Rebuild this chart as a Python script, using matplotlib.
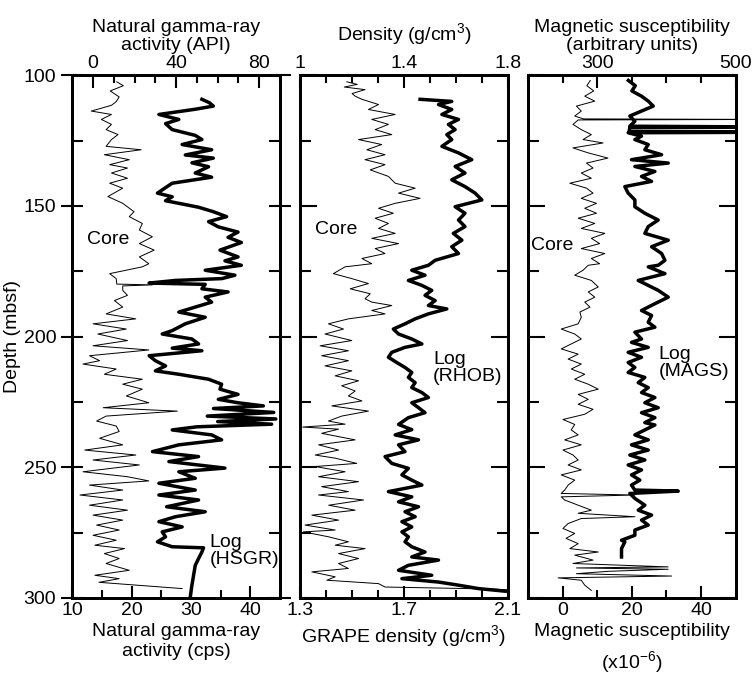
import matplotlib
matplotlib.use('Agg')
import matplotlib.pyplot as plt
from matplotlib.ticker import MultipleLocator, FixedLocator, FixedFormatter

plt.rcParams['font.family'] = ['Liberation Sans', 'DejaVu Sans']
plt.rcParams['font.size'] = 14
plt.rcParams['mathtext.fontset'] = 'custom'
plt.rcParams['mathtext.rm'] = 'Liberation Sans'

# ---- Natural gamma-ray: core (cps, bottom axis) and log HSGR (API, top axis)
gr_core_depth = [102.5, 104, 106, 108.3, 110.1, 111.5, 113.7, 115, 116.9, 118.8, 120.8, 122.7, 124.6, 127.2,
                 128.5, 130.4, 132.3, 134.2, 135.5, 137.4, 139.4, 141.3, 143.2, 146.4, 149, 152.2, 154.1, 156.7,
                 159.2, 161.8, 164.4, 166.9, 169.5, 172.1, 173.3, 175.9, 177.8, 179.9, 180.2, 180.6, 182.3, 184.2,
                 186.2, 188.7, 191.3, 193.2, 195.1, 197.1, 199, 201.5, 203.5, 205.1, 207.3, 209.2, 210.5, 212.4,
                 214.4, 216.3, 218.2, 220.1, 222.7, 225.3, 227.2, 228.5, 230.4, 232.3, 234.2, 236.3, 238.9, 241.4,
                 243.4, 245.3, 247.2, 249.1, 251.7, 253.6, 255.2, 256.8, 258.7, 260.6, 262.5, 264.5, 266.4, 268.3,
                 270.2, 272.1, 274, 276, 277.9, 279.8, 281.1, 283, 284.9, 286.8, 289.4, 291.3, 292.6, 294, 296.4]
gr_core_cps = [17.5, 18.6, 16.4, 17.9, 17.4, 16.6, 13.2, 16.6, 14.9, 16.6, 15.7, 17.7, 16.6, 15.7,
               21.6, 15.4, 19.6, 16.3, 19.3, 16.6, 19.3, 16.3, 18.5, 16.0, 18.5, 20.4, 19.6, 21.8,
               21.3, 23.5, 21.3, 23.8, 21.3, 22.9, 21.8, 16.3, 17.4, 17.5, 23.5, 18.5, 18.5, 19.3,
               17.1, 18.5, 15.7, 20.7, 13.5, 19.1, 14.3, 19.3, 13.5, 22.9, 12.9, 14.6, 11.8, 17.4,
               15.4, 21.8, 18.5, 21.8, 19.1, 22.9, 15.2, 27.7, 15.7, 14.1, 17.4, 17.9, 14.6, 18.5,
               12.1, 20.7, 13.5, 21.3, 11.8, 19.3, 22.9, 12.9, 18.5, 11.3, 18.5, 12.9, 19.3, 13.5,
               18.5, 14.1, 17.9, 13.5, 17.4, 13.8, 18.8, 15.4, 17.9, 15.7, 19.6, 13.8, 17.9, 14.5, 28.5]

gr_log_depth = [109.2, 110.5, 111.8, 113, 115, 116.9, 118.5, 120.8, 123, 124.6, 126.5, 128.5, 130.5, 131.7,
                133.5, 135, 137.4, 139, 141.3, 143, 145.1, 146.5, 148, 149, 150.5, 152.2, 154.1, 156, 158, 160,
                162, 164, 166.9, 169.5, 171, 172.7, 174.6, 176.5, 177.8, 178.5, 179.5, 180, 181.7, 182.9, 184.9,
                186.8, 188.7, 190.6, 192.6, 195.1, 197.7, 199, 200.9, 202.8, 204.4, 205.4, 207.3, 209.2, 211.2,
                213.1, 214.4, 216.3, 218.2, 220.1, 222.1, 224, 225.3, 226.5, 227.5, 229, 230.4, 231.5, 232.5,
                233.5, 234.5, 235.7, 237.6, 239.5, 241.4, 244, 245.9, 247.8, 250.3, 251.7, 254.2, 256.1, 258.7,
                260.6, 262.5, 265.1, 267, 268.9, 270.8, 272.8, 274.7, 276.6, 278.5, 280.4, 280.8, 282.4, 284.9,
                287.5, 291.3, 295.1, 299.6]
gr_log_api = [52.4, 56, 57.9, 49.2, 31.7, 41.3, 34.9, 38.1, 49.2, 52.4, 42.9, 57.1, 44.4, 57.9,
              47.6, 55.6, 49.2, 57.1, 38.1, 34.9, 31, 38.1, 34.9, 41.3, 50.8, 57.9, 64.3, 55.6, 60.3, 69.8,
              65, 71.4, 61.1, 69.8, 63.5, 71.4, 54, 68.3, 62, 39.7, 27, 54, 52.4, 65, 54,
              57.1, 49.2, 41.3, 54, 44.4, 38.1, 33.3, 47.6, 50.8, 38.1, 52.4, 27, 30, 34.9,
              30, 41.3, 55.6, 61.9, 61.1, 69.8, 60.3, 69.8, 82, 58, 87, 55, 88, 60,
              86, 50, 38.1, 57.1, 61.9, 41.3, 28.6, 50.8, 36.5, 63.5, 41.3, 49.2, 31.7, 49.2,
              31.7, 50.8, 35.4, 54, 39.7, 31.7, 42.9, 33.3, 34.9, 31, 38.1, 53.2, 52.4, 50.8,
              49.2, 48.4, 47.6, 46.8]

# ---- Density: GRAPE core (bottom axis) and log RHOB (top axis)
rho_core_depth = [102.5, 103.5, 104.5, 105.5, 107, 108, 109.2, 111.2, 113.1, 115, 116.9, 118.8, 120.8, 122.7,
                  124.6, 126.5, 128.5, 130.4, 132.3, 134.2, 136.2, 138.7, 141.3, 143.2, 145.1, 147.1, 149,
                  150.9, 152.8, 154.7, 156.7, 158.6, 160.5, 162.4, 164.4, 166.3, 168.2, 170.1, 172.1, 173.3,
                  175.9, 177.8, 179.7, 181.7, 183.6, 185.5, 186.8, 188.1, 190, 191.3, 193.2, 195.1, 197.1, 199,
                  201.5, 203.5, 205.4, 207.3, 209.2, 211.2, 213.1, 215, 216.9, 218.8, 220.8, 222.7, 224.6,
                  226.5, 228.5, 230.4, 232.3, 233.5, 234.6, 235.4, 237, 239.5, 241.4, 243.4, 245.3, 246.5,
                  248.5, 249.7, 251.7, 253.6, 255.5, 257.4, 259.3, 260.6, 262.5, 264.5, 266.4, 268.3, 270.2,
                  272.1, 274, 274.7, 276.6, 278.5, 279.8, 281.1, 283, 284.9, 286.8, 288.7, 290, 291.9, 293.2,
                  294.5, 295.8, 296.6, 297]
rho_core_grape = [1.48, 1.52, 1.47, 1.55, 1.5, 1.512, 1.538, 1.602, 1.563, 1.666, 1.576, 1.64, 1.589, 1.653,
                  1.525, 1.614, 1.557, 1.627, 1.55, 1.627, 1.57, 1.64, 1.666, 1.743, 1.679, 1.762, 1.666,
                  1.602, 1.659, 1.589, 1.64, 1.602, 1.666, 1.576, 1.679, 1.589, 1.627, 1.538, 1.576, 1.473,
                  1.428, 1.499, 1.563, 1.493, 1.57, 1.55, 1.576, 1.653, 1.576, 1.627, 1.486, 1.409, 1.467, 1.396,
                  1.499, 1.377, 1.486, 1.383, 1.486, 1.396, 1.499, 1.435, 1.525, 1.46, 1.512, 1.486, 1.538,
                  1.422, 1.563, 1.46, 1.409, 1.473, 1.31, 1.448, 1.383, 1.512, 1.371, 1.448, 1.358, 1.435,
                  1.518, 1.358, 1.473, 1.371, 1.525, 1.383, 1.486, 1.371, 1.544, 1.41, 1.512, 1.345, 1.448,
                  1.319, 1.435, 1.313, 1.41, 1.486, 1.435, 1.55, 1.448, 1.525, 1.448, 1.486, 1.345, 1.435, 1.403,
                  1.602, 1.627, 2.05, 2.12]

rho_log_depth = [109.2, 110, 111.2, 113.1, 115, 116.9, 118.8, 120.8, 122.7, 124.6, 127.2, 129.7, 132.3, 134.9,
                 137.4, 140, 142.6, 145.1, 147.7, 150.3, 152.8, 155.4, 157.9, 160.5, 163.1, 165.6, 168.2, 170.8,
                 172.7, 174.6, 176.5, 178.5, 180.4, 182.3, 184.2, 186.2, 188.1, 189.4, 191.3, 193.2, 195.1,
                 197.1, 199, 200.9, 202.8, 204.1, 206, 207.9, 209.9, 211.8, 213.7, 215.6, 217.6, 219.5, 221.4,
                 223.3, 225.3, 227.2, 229.1, 231, 233.6, 235.6, 237.6, 239.5, 241.4, 244, 245.9, 248.5, 250.4,
                 252.9, 254.9, 256.8, 259.3, 261.3, 263.2, 265.1, 267, 268.9, 270.8, 272.8, 274.7, 276.6, 278.5,
                 280.4, 282.4, 284.3, 285.5, 287.5, 289.4, 291.3, 292.6, 293.9, 295.1, 296.4, 297.4]
rho_log_rhob = [1.462, 1.584, 1.533, 1.584, 1.546, 1.61, 1.571, 1.597, 1.565, 1.584, 1.546, 1.61, 1.661, 1.597,
                1.635, 1.584, 1.635, 1.674, 1.7, 1.597, 1.635, 1.61, 1.635, 1.59, 1.623, 1.584, 1.61, 1.52,
                1.494, 1.43, 1.481, 1.417, 1.469, 1.507, 1.481, 1.52, 1.494, 1.565, 1.494, 1.443, 1.404,
                1.359, 1.379, 1.43, 1.469, 1.404, 1.353, 1.34, 1.372, 1.404, 1.43, 1.417, 1.443, 1.43, 1.469,
                1.494, 1.43, 1.456, 1.481, 1.417, 1.379, 1.43, 1.366, 1.456, 1.379, 1.404, 1.327, 1.353, 1.417,
                1.392, 1.43, 1.469, 1.34, 1.43, 1.379, 1.456, 1.404, 1.443, 1.392, 1.43, 1.392, 1.417, 1.404,
                1.43, 1.481, 1.43, 1.533, 1.417, 1.379, 1.507, 1.392, 1.533, 1.61, 1.687, 1.79]

# ---- Magnetic susceptibility: core (x1e-6, bottom axis) and log MAGS (arbitrary, top axis)
ms_core_depth = [102, 104, 106, 108, 109.9, 111.8, 113.7, 115.6, 116.7, 116.9, 117.1, 118.8, 120.8, 122.7,
                 124.6, 125.9, 127.8, 129.7, 131.7, 133.6, 135.5, 137.4, 139.4, 141.3, 143.2, 145.1, 147.1,
                 149, 150.9, 152.8, 154.7, 156.7, 158.6, 160.5, 162.4, 164.4, 166.3, 168.2, 170.1, 172.1,
                 172.7, 174.6, 176.5, 178.5, 181, 182.9, 184.9, 186.8, 188.7, 190.6, 192.6, 195.1, 197.1, 199,
                 200.9, 202.8, 204.7, 206.7, 208.6, 210.5, 212.4, 214.4, 216.3, 218.2, 220.1, 222.1, 224,
                 225.9, 227.8, 229.7, 231.7, 233.6, 235.7, 237.6, 239.5, 241.4, 243.4, 245.3, 247.2, 249.1,
                 251, 252.9, 254.9, 256.8, 258.7, 260, 260.6, 261.3, 262.5, 264.5, 266.4, 267.6, 268.9, 269.6,
                 271.5, 273.4, 275.3, 277.2, 279.2, 281.1, 282.4, 283.6, 285.5, 286.8, 288.1, 288.5, 289,
                 289.8, 290.7, 291.6, 292.3, 293.2, 295.1, 297.1]
ms_core_si = [8, 7, 9, 6.4, 9.3, 4, 5.4, 3.5, 6, 60, 4.5, 3, 5.4, 8.3,
              5.9, 11.7, 3, 7.4, 13.1, 6.9, 8.8, 5.4, 8.3, 2.1, 6.9, 8.8, 5.4,
              9.8, 6.4, 9.8, 4.5, 9.3, 5.4, 12.2, 8.3, 10.7, 5.4, 12.2, 8.3, 10.7,
              7.4, 5.9, 3.5, 8.3, 10.3, 7.4, 9.3, 6.4, 7.9, 5, 5.4, 4.5, -0.4, 3.5,
              5.4, 2.5, -0.4, 4.5, 1.6, 5.4, 2.5, 6.4, 3.5, 7.4, 10.3, 4.5, 7.4,
              4.5, 8.8, 6.4, 0.1, 3.5, 2.5, 4.5, 0.6, 5.4, 0.1, 3, 4.5, 1.6,
              5.4, -0.4, 3.5, 1.6, 0.6, -0.4, 20.9, -0.4, 0.6, 4.5, 8.3, 4.5, 20.9, 5.4,
              1.6, 0.1, 3.5, 1, 4.5, 2.1, 10.3, 3.5, 8.8, 3, 30.5, 4, 30.5,
              13.1, 4, 31.5, -1.3, 5.4, 6.4, 8.3]

ms_log_depth = [102, 104, 106, 108, 109.9, 111.8, 113.7, 115.6, 117.6, 119.5, 119.8, 120.1, 121.6, 121.8,
                122, 123.3, 124.6, 126.5, 128.5, 130.4, 132.3, 133.6, 134.9, 136.8, 138.7, 140.6, 142.6,
                145.1, 147.7, 150.3, 152.8, 155.4, 157.9, 160.5, 163.1, 165.6, 168.2, 170.8, 172.7, 173.3,
                175.9, 178.5, 180.4, 182.3, 184.9, 187.4, 190, 191.9, 194.5, 196.4, 198.3, 200.9, 202.2,
                204.1, 206, 207.9, 209.9, 211.8, 213.7, 215.6, 217.6, 219.5, 221.4, 223.3, 225.3, 227.2,
                229.1, 231, 232.9, 233.8, 235.7, 237.6, 239.5, 241.4, 243.4, 245.3, 247.2, 249.1, 251, 252.9,
                254.9, 256.8, 258.7, 259.1, 260, 261.9, 264.5, 266.4, 268.3, 270.2, 272.1, 274, 276, 277.9,
                278.5, 279.8, 281.1, 284.3]
ms_log_arb = [345, 355, 350, 364, 373.7, 380.9, 364, 347.1, 354.4, 347, 560, 347, 346, 560,
              344.7, 364, 354.4, 373.7, 368.8, 393, 349.5, 402.6, 354.4, 383.3, 364, 378.5, 339.9,
              344.7, 354.4, 354.4, 368.8, 388.1, 373.7, 368.8, 402.6, 378.5, 393, 397.8, 388.1, 373.7,
              397.8, 359.2, 373.7, 388.1, 402.6, 383.3, 364, 378.5, 373.7, 383.3, 354.4, 364, 349.5,
              373.7, 344.7, 364, 344.7, 354.4, 344.7, 368.8, 359.2, 373.7, 364, 383.3, 368.8, 388.1,
              364, 383.3, 368.8, 383.3, 368.8, 354.4, 373.7, 349.5, 373.7, 347.1, 368.8, 344.7, 364, 349.5,
              361.6, 349.5, 354.4, 417, 347.1, 354.4, 368.8, 359.2, 378.5, 364, 373.7, 354.4, 354.4, 335.1,
              339.9, 337.5, 335.1, 335.1]

panels = [
    dict(core=(gr_core_depth, gr_core_cps), log=(gr_log_depth, gr_log_api),
         bot_lim=(10, 45), bot_major=[10, 20, 30, 40], bot_labels=['10', '20', '30', '40'], bot_minor=5,
         top_lim=(-10, 90), top_major=[0, 40, 80], top_labels=['0', '40', '80'], top_minor=10,
         bot_title='Natural gamma-ray\nactivity (cps)', top_title='Natural gamma-ray\nactivity (API)',
         top_pad=4, core_txt=(0.07, 163), log_txt=(0.66, 282, 'Log\n(HSGR)')),
    dict(core=(rho_core_depth, rho_core_grape), log=(rho_log_depth, rho_log_rhob),
         bot_lim=(1.3, 2.1), bot_major=[1.3, 1.7, 2.1], bot_labels=['1.3', '1.7', '2.1'], bot_minor=0.1,
         top_lim=(1.0, 1.8), top_major=[1.0, 1.4, 1.8], top_labels=['1', '1.4', '1.8'], top_minor=0.1,
         bot_title='GRAPE density (g/cm$^3$)', top_title='Density (g/cm$^3$)',
         top_pad=10, core_txt=(0.07, 159), log_txt=(0.64, 212, 'Log\n(RHOB)')),
    dict(core=(ms_core_depth, ms_core_si), log=(ms_log_depth, ms_log_arb),
         bot_lim=(-10, 50), bot_major=[0, 20, 40], bot_labels=['0', '20', '40'], bot_minor=10,
         top_lim=(200, 500), top_major=[300, 500], top_labels=['300', '500'], top_minor=50,
         bot_title='Magnetic susceptibility\n(x10$^{-6}$)', top_title='Magnetic susceptibility\n(arbitrary units)',
         top_pad=4, core_txt=(0.015, 165), log_txt=(0.63, 210, 'Log\n(MAGS)')),
]

fig, axs = plt.subplots(1, 3, figsize=(7.53, 6.78), dpi=100, sharey=True)
fig.subplots_adjust(left=0.096, right=0.977, top=0.889, bottom=0.118, wspace=0.097)

for i, (ax, p) in enumerate(zip(axs, panels)):
    top = ax.twiny()
    ax.plot(p['core'][1], p['core'][0], color='black', lw=0.7, zorder=3)
    top.plot(p['log'][1], p['log'][0], color='black', lw=2.5, zorder=3)

    ax.set_xlim(*p['bot_lim'])
    top.set_xlim(*p['top_lim'])
    ax.set_ylim(300, 100)

    ax.xaxis.set_major_locator(FixedLocator(p['bot_major']))
    ax.xaxis.set_major_formatter(FixedFormatter(p['bot_labels']))
    ax.xaxis.set_minor_locator(MultipleLocator(p['bot_minor']))
    top.xaxis.set_major_locator(FixedLocator(p['top_major']))
    top.xaxis.set_major_formatter(FixedFormatter(p['top_labels']))
    top.xaxis.set_minor_locator(MultipleLocator(p['top_minor']))
    ax.yaxis.set_major_locator(MultipleLocator(50))
    ax.yaxis.set_minor_locator(MultipleLocator(25))

    ax.tick_params(axis='x', which='major', direction='in', length=9, width=1.5, pad=3)
    ax.tick_params(axis='x', which='minor', direction='in', length=6, width=1.5)
    top.tick_params(axis='x', which='major', direction='in', length=9, width=1.5, pad=2)
    top.tick_params(axis='x', which='minor', direction='in', length=6, width=1.5)
    ax.tick_params(axis='y', which='major', direction='in', length=12, width=1.5,
                   left=True, right=True, labelleft=(i == 0))
    ax.tick_params(axis='y', which='minor', direction='in', length=8, width=1.5,
                   left=True, right=True)
    if i == 0:
        ax.tick_params(axis='y', which='major', direction='inout', length=16)

    for a in (ax, top):
        for s in a.spines.values():
            s.set_linewidth(2)

    ax.set_xlabel(p['bot_title'], linespacing=1.2 if i < 2 else 1.45, labelpad=3)
    top.set_xlabel(p['top_title'], linespacing=1.1, labelpad=p['top_pad'])

    ax.text(p['core_txt'][0], p['core_txt'][1], 'Core', transform=ax.get_yaxis_transform(),
            ha='left', va='center')
    ax.text(p['log_txt'][0], p['log_txt'][1], p['log_txt'][2], transform=ax.get_yaxis_transform(),
            ha='left', va='center', linespacing=1.0)

axs[0].set_ylabel('Depth (mbsf)', labelpad=2)

fig.savefig('out.png', dpi=100)
